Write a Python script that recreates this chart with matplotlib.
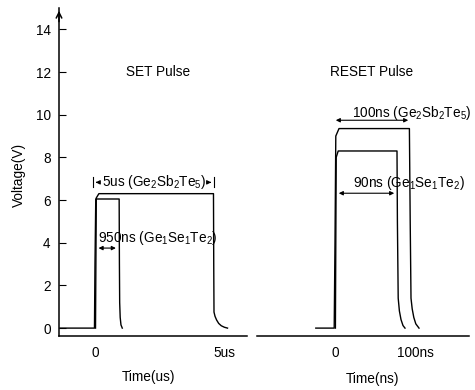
import matplotlib
matplotlib.use("Agg")
import matplotlib.pyplot as plt

plt.rcParams['font.family'] = ['Liberation Sans', 'DejaVu Sans']
plt.rcParams['mathtext.fontset'] = 'custom'
plt.rcParams['mathtext.rm'] = 'Liberation Sans'
plt.rcParams['mathtext.it'] = 'Liberation Sans'

# SET pulses, time in us
set_gst_t = [0.02, 0.05, 0.15, 4.56, 4.57, 4.58, 4.62, 4.68, 4.76, 4.86, 4.98, 5.10]
set_gst_v = [0.0, 6.10, 6.30, 6.30, 3.0, 0.75, 0.55, 0.38, 0.22, 0.11, 0.04, 0.0]
set_gse_t = [-1.35, -0.02, 0.0, 0.03, 0.93, 0.94, 0.95, 0.97, 1.00, 1.05]
set_gse_v = [0.0, 0.0, 3.0, 6.05, 6.05, 3.0, 1.2, 0.5, 0.15, 0.0]

# RESET pulses, time in ns
reset_gst_t = [-24, -1, 0, 1, 5, 93, 94, 95, 96.5, 98.5, 101, 105]
reset_gst_v = [0.0, 0.0, 4.0, 9.0, 9.35, 9.35, 5.0, 1.4, 0.9, 0.5, 0.2, 0.0]
reset_gse_t = [0.5, 1.5, 4, 77.5, 78, 79, 80.5, 82.5, 85, 87.5]
reset_gse_v = [0.0, 8.0, 8.3, 8.3, 5.0, 1.4, 0.8, 0.4, 0.12, 0.0]

yticks = [0, 2, 4, 6, 8, 10, 12, 14]

fig = plt.figure(figsize=(4.75, 3.9), dpi=100)
ax1 = fig.add_axes([59/475, 54/390, 188/475, 328/390])
ax2 = fig.add_axes([257/475, 54/390, 212/475, 328/390])

fs = 9.8
for ax in [ax1, ax2]:
    ax.set_ylim(-0.37, 15.0)
    ax.spines['top'].set_visible(False)
    ax.spines['right'].set_visible(False)
    ax.spines['bottom'].set_linewidth(1.1)
    ax.tick_params(axis='x', length=0, labelsize=fs, pad=7)

ax1.set_xlim(-1.385, 5.85)
ax2.set_xlim(-97.5, 167.5)
ax2.spines['left'].set_visible(False)
ax2.set_yticks([])
ax1.spines['left'].set_linewidth(1.1)
ax1.set_yticks(yticks)
ax1.tick_params(axis='y', direction='in', length=5, labelsize=fs, pad=6)
ax1.annotate('', xy=(0, 1.0), xycoords='axes fraction', xytext=(0, 0.95),
             arrowprops=dict(arrowstyle='->', lw=1.1, color='k'))

ax1.set_xticks([0, 5])
ax1.set_xticklabels(['0', '5us'])
ax2.set_xticks([0, 100])
ax2.set_xticklabels(['0', '100ns'])

ax1.plot(set_gst_t, set_gst_v, color='k', lw=1.0)
ax1.plot(set_gse_t, set_gse_v, color='k', lw=1.0)
ax2.plot(reset_gst_t, reset_gst_v, color='k', lw=1.0)
ax2.plot(reset_gse_t, reset_gse_v, color='k', lw=1.0)

ax1.text(2.42, 12.0, 'SET Pulse', ha='center', va='center', fontsize=fs)
ax2.text(46, 12.0, 'RESET Pulse', ha='center', va='center', fontsize=fs)

ap = dict(arrowstyle='-|>', lw=0.8, color='k', mutation_scale=6)
apd = dict(arrowstyle='<|-|>', lw=0.8, color='k', mutation_scale=6)

# 5us span
ax1.text(2.27, 6.83, r'5us (Ge$_2$Sb$_2$Te$_5$)', ha='center', va='center', fontsize=fs)
ax1.annotate('', xy=(-0.08, 6.83), xytext=(0.2, 6.83), arrowprops=ap)
ax1.annotate('', xy=(4.58, 6.83), xytext=(4.32, 6.83), arrowprops=ap)
ax1.plot([-0.08, -0.08], [6.6, 7.06], color='k', lw=0.8)
ax1.plot([4.58, 4.58], [6.6, 7.06], color='k', lw=0.8)

# 950ns span
ax1.text(0.1, 4.21, r'950ns (Ge$_1$Se$_1$Te$_2$)', ha='left', va='center', fontsize=fs)
ax1.annotate('', xy=(0.03, 3.75), xytext=(0.91, 3.75), arrowprops=apd)

# 100ns span
ax2.text(21, 10.1, r'100ns (Ge$_2$Sb$_2$Te$_5$)', ha='left', va='center', fontsize=fs)
ax2.annotate('', xy=(-2.5, 9.74), xytext=(95, 9.74), arrowprops=apd)

# 90ns span
ax2.text(22.5, 6.79, r'90ns (Ge$_1$Se$_1$Te$_2$)', ha='left', va='center', fontsize=fs)
ax2.annotate('', xy=(1.25, 6.32), xytext=(77.5, 6.32), arrowprops=apd)

fig.text(19/475, 1 - 175/390, 'Voltage(V)', rotation=90, ha='center', va='center', fontsize=fs)
fig.text(148/475, 1 - 377/390, 'Time(us)', ha='center', va='center', fontsize=fs)
fig.text(372/475, 1 - 379/390, 'Time(ns)', ha='center', va='center', fontsize=fs)

fig.savefig('out.png', dpi=100)
